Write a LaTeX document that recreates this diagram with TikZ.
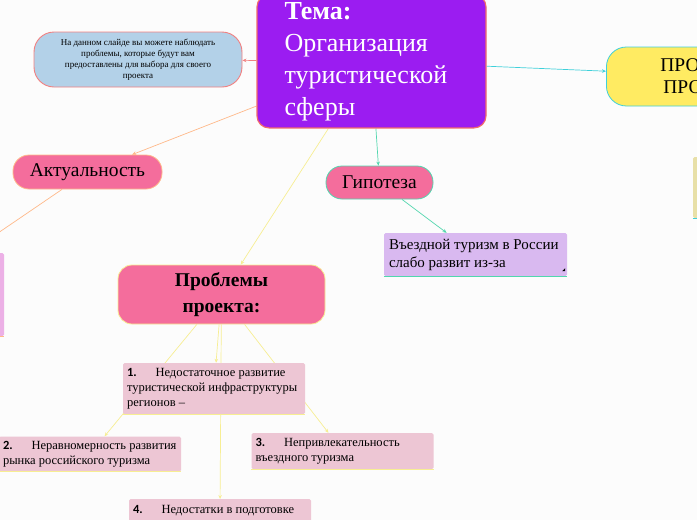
\documentclass[tikz,border=0pt]{standalone}
\usepackage{fontspec}
\setmainfont{Liberation Serif}
\newfontfamily\numfont{Carlito}
\usepackage{tikz}
\usetikzlibrary{arrows.meta,backgrounds}
\definecolor{pagebg}{HTML}{FCFCFC}
\definecolor{titlefill}{HTML}{9B1CF1}
\definecolor{titleline}{HTML}{F26B6B}
\definecolor{notefill}{HTML}{B3D1E8}
\definecolor{noteline}{HTML}{F28080}
\definecolor{pinkfill}{HTML}{F46D9C}
\definecolor{itemfill}{HTML}{EDC6D4}
\definecolor{yellowfill}{HTML}{FFEB62}
\definecolor{cyanline}{HTML}{3FD0DA}
\definecolor{mintline}{HTML}{52D6AE}
\definecolor{peachline}{HTML}{FFB98A}
\definecolor{yellowline}{HTML}{F7EE93}
\definecolor{lavfill}{HTML}{D9B9F0}
\definecolor{orchid}{HTML}{ECB0E6}
\definecolor{beige}{HTML}{E8E0A8}
\newcommand{\itemno}[1]{\makebox[28.5pt][l]{\numfont\bfseries #1.}}

\begin{document}
\begin{tikzpicture}[x=1pt,y=-1pt,
    arr/.style={-{Stealth[length=4pt,width=3.5pt]},line width=0.7pt},
    pill/.style={rounded corners=16pt,line width=0.8pt,inner sep=0pt,font=\fontsize{19.5}{22}\selectfont},
    plainbox/.style={rounded corners=1.5pt,inner xsep=4pt,inner ysep=0pt,align=flush left},
    itembox/.style={plainbox,fill=itemfill,text width=174pt,font=\fontsize{12.5}{15}\selectfont}]
  \useasboundingbox (0,0) rectangle (697,520);
  \node[fill=titlefill,draw=titleline,line width=1.2pt,rounded corners=12pt,text=white,
        font=\fontsize{26}{32}\selectfont,align=flush left,text width=174pt,
        minimum width=229pt,minimum height=133pt] (title) at (371.5,61.4)
        {\textbf{Тема:}\\Организация\\туристической\\сферы};
  \node[fill=notefill,draw=noteline,line width=0.9pt,rounded corners=20pt,align=flush center,
        font=\fontsize{9}{11}\selectfont,minimum width=208pt,minimum height=55pt] (note) at (138,59.5)
        {На данном слайде вы можете наблюдать\\проблемы, которые будут вам\\предоставлены для выбора для своего\\проекта};
  \node[pill,draw=cyanline,fill=yellowfill,rounded corners=20pt,anchor=west,align=flush left,
        text width=146pt,inner xsep=54pt,minimum height=59pt] (goal) at (606,76.5) {ПРО\\\hspace*{3pt}ПРО};
  \node[plainbox,fill=beige,minimum width=60pt,minimum height=61pt] (hint) at (723,187.5) {};
  \node[pill,draw=peachline,fill=pinkfill,minimum width=149pt,minimum height=34pt] (akt) at (87.5,172) {Актуальность};
  \node[plainbox,fill=orchid,minimum width=70pt,minimum height=83pt] (leftbox) at (-31,294.5) {};
  \node[pill,draw=mintline,fill=pinkfill,minimum width=107pt,minimum height=33pt] (gip) at (379.5,182.5) {Гипотеза};
  \node[plainbox,fill=lavfill,text width=173pt,inner xsep=5pt,minimum height=43pt,
        font=\fontsize{15}{18}\selectfont] (vyezd) at (475.5,254.5) {Въездной туризм в России\\слабо развит из-за};
  \fill ([shift={(-5,-5)}]vyezd.south east) -- ++(3,0) -- ++(0,-3) -- cycle;
  \node[pill,draw=yellowline,fill=pinkfill,rounded corners=14pt,minimum width=207pt,minimum height=59pt,
        font=\fontsize{19.5}{26}\selectfont\bfseries,align=flush center] (prob) at (221.5,294.5) {Проблемы\\проекта:};
  \node[itembox,minimum height=51pt] (p1) at (214,388.5) {\itemno{1}Недостаточное развитие\\туристической инфраструктуры\\регионов –};
  \node[itembox,minimum height=35pt] (p2) at (90,454) {\itemno{2}Неравномерность развития\\рынка российского туризма};
  \node[itembox,minimum height=36pt] (p3) at (342.5,451) {\itemno{3}Непривлекательность\\въездного туризма};
  \node[itembox,anchor=north,inner ysep=6pt] (p4) at (220,499) {\itemno{4}Недостатки в подготовке};
  \foreach \n in {p1,p2,p3,p4}
    \draw[yellowline,line width=1pt] (\n.south west) -- (\n.south east);
  \draw[mintline,line width=1pt] (vyezd.south west) -- (vyezd.south east);
  \draw[peachline,line width=1pt] (leftbox.south west) -- (leftbox.south east);
  \draw[cyanline,line width=1pt] (hint.south west) -- (hint.south east);
  \begin{pgfonlayer}{background}
    \fill[pagebg] (0,0) rectangle (697,520);
    \draw[arr,noteline] (title) -- (note);
    \draw[arr,cyanline] (title) -- (goal);
    \draw[arr,peachline] (title) -- (akt);
    \draw[arr,peachline] ([xshift=-25.5pt]akt.south) -- (leftbox.north);
    \draw[arr,mintline] (title) -- (gip);
    \draw[arr,mintline] (gip) -- (vyezd);
    \draw[arr,yellowline] (title) -- (prob);
    \foreach \n in {p1,p2,p3,p4}
      \draw[arr,yellowline] (prob) -- (\n);
  \end{pgfonlayer}
\end{tikzpicture}
\end{document}
